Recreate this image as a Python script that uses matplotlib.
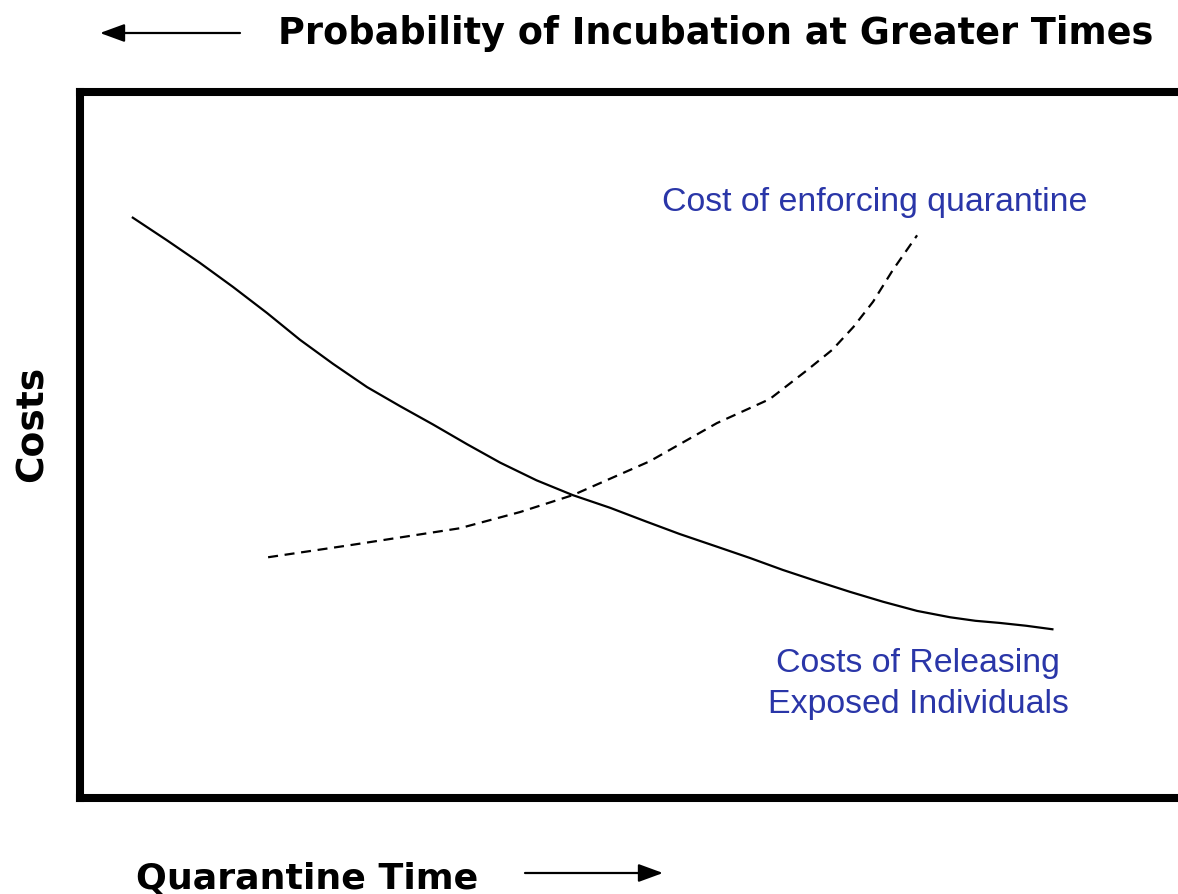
import numpy as np
import matplotlib
matplotlib.use("Agg")
import matplotlib.pyplot as plt
from matplotlib.patches import FancyArrowPatch

# curve values (arbitrary cost units vs quarantine time, both 0-100)
release_t    = [4.8, 7.9, 10.9, 13.9, 17.0, 20.0, 23.0, 26.1, 29.1, 32.1, 35.2, 38.2,
                41.5, 44.8, 48.2, 51.4, 54.5, 57.9, 60.9, 63.9, 67.0, 70.0, 73.0, 76.1,
                79.1, 81.4, 83.6, 86.0, 88.4]
release_cost = [82.2, 79.0, 75.8, 72.4, 68.7, 64.9, 61.5, 58.2, 55.5, 52.9, 50.1, 47.5,
                45.0, 42.9, 41.1, 39.2, 37.4, 35.6, 34.0, 32.3, 30.7, 29.2, 27.8, 26.5,
                25.6, 25.1, 24.8, 24.4, 23.9]

enforce_t    = [17.1, 24.5, 34.5, 40.0, 44.8, 51.8, 57.9, 62.7, 66.1, 68.4, 70.3, 72.1, 73.9, 76.1]
enforce_cost = [34.1, 35.8, 38.2, 40.5, 42.9, 47.7, 53.1, 56.5, 60.6, 63.5, 66.7, 70.3, 74.8, 79.7]

title_top    = "Probability of Incubation at Greater Times"
xlabel       = "Quarantine Time"
ylabel       = "Costs"
label_enforce = "Cost of enforcing quarantine"
label_release = "Costs of Releasing\nExposed Individuals"

W, H = 1178, 894
blue = "#2a36a8"

fig = plt.figure(figsize=(W / 100, H / 100), dpi=100)
# axes box: left 80px, top 92px, bottom 798px, right runs off the image
ax = fig.add_axes([80 / W, (H - 798) / H, (1180 - 80) / W, (798 - 92) / H])
ax.set_xlim(0, 100)
ax.set_ylim(0, 100)
ax.set_xticks([])
ax.set_yticks([])
for s in ["left", "top", "bottom"]:
    ax.spines[s].set_linewidth(5.8)
ax.spines["right"].set_visible(False)

ax.plot(release_t, release_cost, color="black", lw=1.6, solid_joinstyle="round")
ax.plot(enforce_t, enforce_cost, color="black", lw=1.6, dashes=(4.5, 3))

ax.text((662 - 80) / 11, (798 - 211) / 7.06, label_enforce, color=blue,
        fontsize=24.4, family="Liberation Sans", ha="left", va="baseline")
ax.text((918 - 80) / 11, (798 - 684) / 7.06, label_release, color=blue,
        fontsize=24.4, family="Liberation Sans", ha="center", va="center",
        linespacing=1.45, multialignment="center")

# outside labels
fig.text(278 / W, 1 - 44 / H, title_top, fontsize=26.4, fontweight="bold",
         family="DejaVu Sans", ha="left", va="baseline")
fig.text(136 / W, 1 - 889 / H, xlabel, fontsize=26.2, fontweight="bold",
         family="DejaVu Sans", ha="left", va="baseline")
fig.text(33 / W, 1 - 424 / H, ylabel, fontsize=27, fontweight="bold",
         family="DejaVu Sans", rotation=90, ha="center", va="center")

# arrows
arr1 = FancyArrowPatch((240 / W, 1 - 33 / H), (100 / W, 1 - 33 / H),
                       transform=fig.transFigure, arrowstyle="-|>,head_length=0.6,head_width=0.22",
                       mutation_scale=25, color="black", lw=1.6, shrinkA=0, shrinkB=0)
arr2 = FancyArrowPatch((525 / W, 1 - 873 / H), (663 / W, 1 - 873 / H),
                       transform=fig.transFigure, arrowstyle="-|>,head_length=0.6,head_width=0.22",
                       mutation_scale=25, color="black", lw=1.6, shrinkA=0, shrinkB=0)
fig.patches.append(arr1)
fig.patches.append(arr2)

plt.savefig("out.png", dpi=100)
